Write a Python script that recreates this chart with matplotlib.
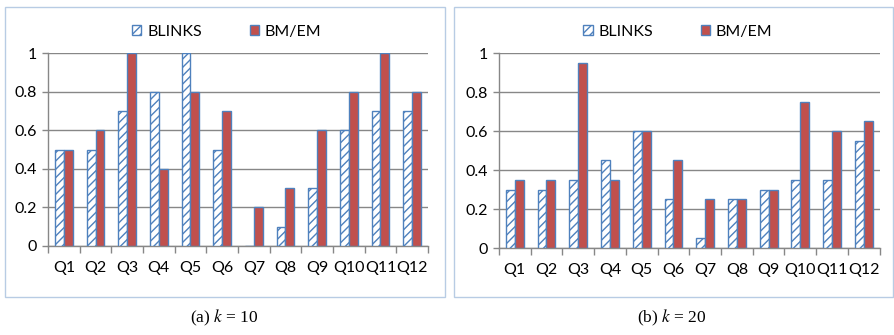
import matplotlib
matplotlib.use("Agg")
import matplotlib.pyplot as plt
from matplotlib.patches import Rectangle, Patch
import numpy as np

queries = ["Q1", "Q2", "Q3", "Q4", "Q5", "Q6", "Q7", "Q8", "Q9", "Q10", "Q11", "Q12"]
blinks_k10 = [0.5, 0.5, 0.7, 0.8, 1.0, 0.5, 0.0, 0.1, 0.3, 0.6, 0.7, 0.7]
bmem_k10 = [0.5, 0.6, 1.0, 0.4, 0.8, 0.7, 0.2, 0.3, 0.6, 0.8, 1.0, 0.8]
blinks_k20 = [0.3, 0.3, 0.35, 0.45, 0.6, 0.25, 0.05, 0.25, 0.3, 0.35, 0.35, 0.55]
bmem_k20 = [0.35, 0.35, 0.95, 0.35, 0.6, 0.45, 0.25, 0.25, 0.3, 0.75, 0.6, 0.65]

RED = "#C0504D"
BLUE = "#4F81BD"
GRID = "#878787"
BOX = "#B8CCE4"

plt.rcParams['font.family'] = ['Lato', 'DejaVu Sans']
plt.rcParams['mathtext.fontset'] = 'stix'
plt.rcParams['hatch.linewidth'] = 1.0
plt.rcParams['hatch.color'] = "#8DB3E2"

fig = plt.figure(figsize=(8.94, 3.35), dpi=100)


def panel(rect, blinks, bmem):
    ax = fig.add_axes(rect)
    x = np.arange(len(queries))
    w = 0.28
    ax.bar(x - w / 2, blinks, w, facecolor="white", edgecolor=BLUE,
           hatch="////", linewidth=1.0, zorder=3)
    ax.bar(x + w / 2, bmem, w, facecolor=RED, edgecolor=BLUE,
           linewidth=1.0, zorder=3)
    ax.set_xlim(-0.5, len(queries) - 0.5)
    ax.set_ylim(0, 1)
    ax.set_yticks(np.arange(0, 1.01, 0.2))
    ax.set_yticklabels(["0", "0.2", "0.4", "0.6", "0.8", "1"])
    ax.yaxis.grid(True, color=GRID, linewidth=1.0, zorder=0)
    ax.set_axisbelow(True)
    ax.set_xticks(x)
    ax.set_xticklabels(queries)
    ax.set_xticks(np.arange(-0.5, len(queries)), minor=True)
    ax.tick_params(axis='x', which='major', length=0, pad=11, labelsize=11.5)
    ax.tick_params(axis='x', which='minor', length=5, color=GRID, width=1)
    ax.tick_params(axis='y', length=4, color=GRID, width=1, labelsize=11.5, pad=4)
    for s in ["top", "right"]:
        ax.spines[s].set_visible(False)
    for s in ["left", "bottom"]:
        ax.spines[s].set_color(GRID)
        ax.spines[s].set_linewidth(1.0)
    handles = [Patch(facecolor="white", edgecolor=BLUE, hatch="////", label="BLINKS"),
               Patch(facecolor=RED, edgecolor=BLUE, label="BM/EM")]
    ax.legend(handles=handles, loc="lower center", bbox_to_anchor=(0.47, 1.0),
              ncol=2, frameon=False, fontsize=11.5, handlelength=0.6,
              handleheight=0.6, handletextpad=0.35, columnspacing=3.0)
    return ax


panel([0.0537, 0.2657, 0.425, 0.576], blinks_k10, bmem_k10)
panel([0.558, 0.2597, 0.426, 0.582], blinks_k20, bmem_k20)

fig.add_artist(Rectangle((5 / 894, 1 - 297 / 335), 440 / 894, 290 / 335,
                         transform=fig.transFigure, fill=False,
                         edgecolor=BOX, linewidth=1.0))
fig.add_artist(Rectangle((454 / 894, 1 - 297 / 335), 439 / 894, 290 / 335,
                         transform=fig.transFigure, fill=False,
                         edgecolor=BOX, linewidth=1.0))

fig.text(224 / 894, 1 - 318 / 335, "(a) $k$ = 10", ha="center", va="center",
         fontsize=12.5, family="Liberation Serif")
fig.text(672 / 894, 1 - 318 / 335, "(b) $k$ = 20", ha="center", va="center",
         fontsize=12.5, family="Liberation Serif")

fig.savefig("out.png", dpi=100)
